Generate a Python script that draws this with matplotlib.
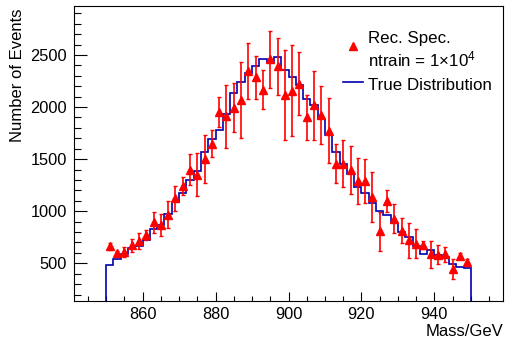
import numpy as np
import matplotlib
matplotlib.use("Agg")
from matplotlib import pyplot as plt

plt.rcParams["font.family"] = ["Liberation Sans", "DejaVu Sans"]
plt.rcParams["mathtext.fontset"] = "custom"
plt.rcParams["mathtext.rm"] = "Liberation Sans"
plt.rcParams["mathtext.it"] = "Liberation Sans:italic"

# Binning: 50 bins of 2 GeV from 850 to 950
bin_edges = np.arange(850, 951, 2)
bin_centers = (bin_edges[:-1] + bin_edges[1:]) / 2

# True distribution (blue histogram)
true_counts = [484, 538, 592, 647, 670, 728, 828, 872, 970, 1086,
               1173, 1304, 1390, 1571, 1690, 1784, 1933, 2132, 2242, 2327,
               2398, 2462, 2431, 2477, 2354, 2288, 2214, 2080, 2015, 1887,
               1729, 1568, 1454, 1356, 1234, 1173, 1080, 1004, 961, 890,
               801, 748, 669, 592, 628, 576, 564, 490, 467, 458]

# Reconstructed spectrum (red points) and errors
rec_counts = [662, 596, 606, 671, 715, 768, 893, 866, 965, 1123,
              1240, 1400, 1352, 1500, 1650, 1950, 1910, 1995, 2070, 2345,
              2285, 2166, 2460, 2390, 2115, 2157, 2225, 1900, 2015, 1925,
              1772, 1458, 1455, 1400, 1290, 1288, 1132, 806, 1100, 928,
              812, 720, 690, 675, 585, 582, 585, 445, 572, 515]
rec_err = [33, 22, 48, 67, 77, 47, 100, 106, 130, 118,
           85, 150, 210, 232, 131, 144, 300, 235, 365, 268,
           206, 185, 273, 273, 430, 438, 303, 220, 333, 276,
           313, 188, 225, 230, 217, 212, 240, 185, 105, 141,
           120, 170, 135, 40, 128, 92, 72, 95, 30, 22]

fig = plt.figure(figsize=(5.08, 3.45), dpi=100)
ax = fig.add_axes([74 / 508, 1 - 301 / 345, (503 - 74) / 508, (301 - 6) / 345])

ax.stairs(true_counts, bin_edges, baseline=0, color="#0000b0", linewidth=1.2, zorder=2)
ax.errorbar(bin_centers, rec_counts, yerr=rec_err, fmt="^", color="red",
            markersize=5.2, elinewidth=1.2, capsize=1.5, capthick=1.0, zorder=3)

ax.set_xlim(841.2, 958.8)
ax.set_ylim(138, 2970)

ax.set_xticks([860, 880, 900, 920, 940])
ax.set_xticks(np.arange(845, 958, 5), minor=True)
ax.set_yticks([500, 1000, 1500, 2000, 2500])
ax.set_yticks(np.arange(200, 2970, 100), minor=True)

ax.tick_params(axis="both", which="both", direction="in", top=False, right=False,
               labelsize=11.8)
ax.tick_params(axis="x", which="major", length=6.5, width=0.8, pad=4)
ax.tick_params(axis="x", which="minor", length=3.3, width=0.8)
ax.tick_params(axis="y", which="major", length=9.4, width=0.8, pad=5)
ax.tick_params(axis="y", which="minor", length=4.7, width=0.8)
for sp in ax.spines.values():
    sp.set_linewidth(0.8)

fig.text(18 / 508, 1 - 9 / 345, "Number of Events", rotation=90,
         ha="center", va="top", fontsize=12)
fig.text(503 / 508, 1 - 332 / 345, "Mass/GeV", ha="right", va="center", fontsize=12)

# Legend drawn by hand, ROOT style
ax.plot([353 / 508], [1 - 46 / 345], marker="^", color="red", markersize=5.2,
        transform=fig.transFigure, clip_on=False)
ax.plot([343 / 508, 363 / 508], [1 - 82 / 345, 1 - 82 / 345], color="#0000b0",
        linewidth=1.2, transform=fig.transFigure, clip_on=False)
fig.text(368 / 508, 1 - 42.5 / 345, "Rec. Spec.", ha="left", va="baseline",
         fontsize=12.2)
fig.text(368 / 508, 1 - 66 / 345, r"ntrain = 1$\times$10$^{4}$", ha="left",
         va="baseline", fontsize=12.2)
fig.text(368 / 508, 1 - 89.5 / 345, "True Distribution", ha="left", va="baseline",
         fontsize=12.2)

fig.savefig("out.png", dpi=100)
